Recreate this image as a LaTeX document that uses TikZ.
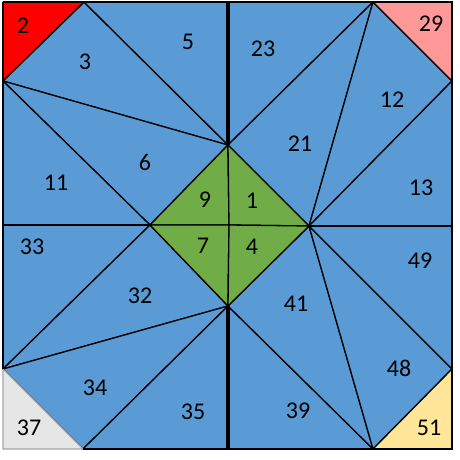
\documentclass[tikz,border=0pt]{standalone}
\usepackage{fontspec}
\setmainfont{Carlito}
\usepackage{xcolor}
\usepackage{tikz}
\usetikzlibrary{calc}

\definecolor{tileblue}{HTML}{5B9BD5}
\definecolor{tilegreen}{HTML}{70AD47}
\definecolor{tilered}{HTML}{FF0000}
\definecolor{tilepink}{HTML}{FF9999}
\definecolor{tilegray}{HTML}{E7E6E6}
\definecolor{tileyellow}{HTML}{FFE699}

\begin{document}
\begin{tikzpicture}[
        x=1pt, y=-1pt,
        tile/.style={draw=black, line width=1.3pt, line join=round},
        lbl/.style={inner sep=0pt, font=\fontsize{24}{24}\selectfont},
        axis/.style={draw=black, line width=3.2pt}
    ]
        \useasboundingbox (0,0) rectangle (460,460);

        % corners, sides and the diamond
        \coordinate (TL) at (3,2);   \coordinate (TR) at (452,2);
        \coordinate (BL) at (3,449); \coordinate (BR) at (452,449);
        \coordinate (t1) at (84,2);  \coordinate (t2) at (228,2);  \coordinate (t3) at (373,2);
        \coordinate (l1) at (3,81);  \coordinate (l2) at (3,225);  \coordinate (l3) at (3,369);
        \coordinate (r1) at (452,81); \coordinate (r2) at (452,226); \coordinate (r3) at (452,369);
        \coordinate (b1) at (83,449); \coordinate (b2) at (228,449); \coordinate (b3) at (373,449);
        \coordinate (dN) at (228,145); \coordinate (dE) at (309,226);
        \coordinate (dS) at (228,306); \coordinate (dW) at (150,225);
        \coordinate (dC) at (229,225);

        % blue tiles
        \filldraw[tile, fill=tileblue] (t1) -- (l1) -- (dN) -- cycle;
        \filldraw[tile, fill=tileblue] (t1) -- (t2) -- (dN) -- cycle;
        \filldraw[tile, fill=tileblue] (l1) -- (dN) -- (dW) -- cycle;
        \filldraw[tile, fill=tileblue] (l1) -- (l2) -- (dW) -- cycle;
        \filldraw[tile, fill=tileblue] (t2) -- (t3) -- (dN) -- cycle;
        \filldraw[tile, fill=tileblue] (dN) -- (t3) -- (dE) -- cycle;
        \filldraw[tile, fill=tileblue] (t3) -- (r1) -- (dE) -- cycle;
        \filldraw[tile, fill=tileblue] (r1) -- (r2) -- (dE) -- cycle;
        \filldraw[tile, fill=tileblue] (l2) -- (dW) -- (l3) -- cycle;
        \filldraw[tile, fill=tileblue] (dW) -- (dS) -- (l3) -- cycle;
        \filldraw[tile, fill=tileblue] (l3) -- (dS) -- (b1) -- cycle;
        \filldraw[tile, fill=tileblue] (b1) -- (dS) -- (b2) -- cycle;
        \filldraw[tile, fill=tileblue] (b2) -- (dS) -- (b3) -- cycle;
        \filldraw[tile, fill=tileblue] (dS) -- (dE) -- (b3) -- cycle;
        \filldraw[tile, fill=tileblue] (dE) -- (b3) -- (r3) -- cycle;
        \filldraw[tile, fill=tileblue] (dE) -- (r2) -- (r3) -- cycle;

        % green diamond
        \filldraw[tile, fill=tilegreen] (dN) -- (dW) -- (dC) -- cycle;
        \filldraw[tile, fill=tilegreen] (dN) -- (dE) -- (dC) -- cycle;
        \filldraw[tile, fill=tilegreen] (dW) -- (dS) -- (dC) -- cycle;
        \filldraw[tile, fill=tilegreen] (dE) -- (dS) -- (dC) -- cycle;

        % corner tiles
        \filldraw[tile, fill=tilered] (TL) -- (t1) -- (l1) -- cycle;
        \filldraw[tile, fill=tilepink] (t3) -- (TR) -- (r1) -- cycle;
        \filldraw[tile, fill=tileyellow] (r3) -- (BR) -- (b3) -- cycle;
        \filldraw[tile, draw=gray!70, fill=tilegray] (l3) -- (BL) -- (b1) -- cycle;

        % heavy lines
        \draw[axis] (t2) -- (dN);
        \draw[axis] (dS) -- (b2);
        \draw[axis, line width=2.4pt] (l2) -- (dW);
        \draw[axis, line width=2.4pt] (dE) -- (r2);
        \draw[black, line width=2.2pt] (TL) -- (TR) -- (BR) -- (b1);
        \draw[black, line width=2.2pt] (l3) -- (TL);

        % labels
        \node[lbl] (n2)  at (23,26)   {2};
        \node[lbl] (n3)  at (85,62)   {3};
        \node[lbl] (n5)  at (188,42)  {5};
        \node[lbl] (n6)  at (145,162) {6};
        \node[lbl] (n11) at (56,183)  {11};
        \node[lbl] (n9)  at (205,200) {9};
        \node[lbl] (n23) at (263,49)  {23};
        \node[lbl] (n29) at (431,24)  {29};
        \node[lbl] (n12) at (392,100) {12};
        \node[lbl] (n21) at (300,144) {21};
        \node[lbl] (n13) at (421,188) {13};
        \node[lbl] (n1)  at (252,201) {1};
        \node[lbl] (n33) at (32,247)  {33};
        \node[lbl] (n7)  at (203,246) {7};
        \node[lbl] (n4)  at (252,247) {4};
        \node[lbl] (n32) at (140,296) {32};
        \node[lbl] (n34) at (95,388)  {34};
        \node[lbl] (n35) at (193,412) {35};
        \node[lbl] (n37) at (29,428)  {37};
        \node[lbl] (n49) at (420,261) {49};
        \node[lbl] (n41) at (296,304) {41};
        \node[lbl] (n48) at (399,368) {48};
        \node[lbl] (n39) at (298,411) {39};
        \node[lbl] (n51) at (429,428) {51};
    \end{tikzpicture}
\end{document}
